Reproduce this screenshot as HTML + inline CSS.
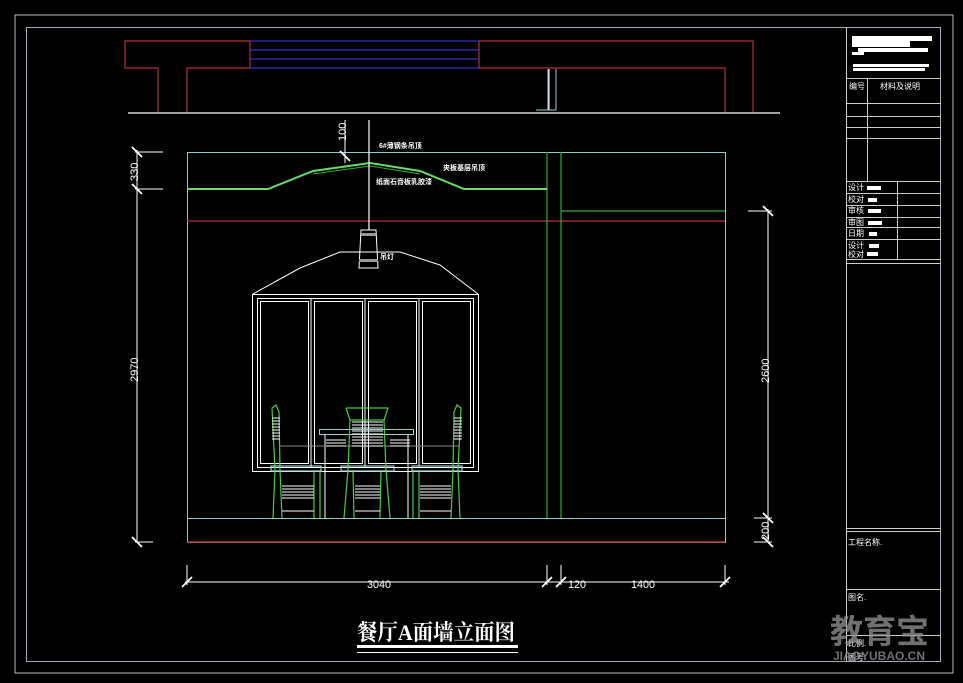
<!DOCTYPE html>
<html><head><meta charset="utf-8"><style>
html,body{margin:0;padding:0;background:#000;}
svg{display:block}
text{font-family:"Liberation Sans","Noto Sans CJK SC",sans-serif;fill:#fff}
</style></head><body>
<svg width="963" height="683" viewBox="0 0 963 683" xmlns="http://www.w3.org/2000/svg">
<rect width="963" height="683" fill="#000"/>
<rect x="15" y="15" width="938" height="658" fill="none" stroke="#bbb" stroke-width="1"/>
<rect x="26.5" y="27.5" width="914" height="634" fill="none" stroke="#aab" stroke-width="1"/>
<g stroke="#ccc" stroke-width="1" fill="none">
<line x1="846.5" y1="27" x2="846.5" y2="662"/>
<line x1="846" y1="78.5" x2="941" y2="78.5"/>
<line x1="846" y1="103.5" x2="941" y2="103.5"/>
<line x1="846" y1="116.5" x2="941" y2="116.5"/>
<line x1="846" y1="127.5" x2="941" y2="127.5"/>
<line x1="846" y1="138.5" x2="941" y2="138.5"/>
<line x1="867.5" y1="78" x2="867.5" y2="181"/>
<line x1="846" y1="181.5" x2="941" y2="181.5"/>
<line x1="846" y1="193.5" x2="941" y2="193.5"/>
<line x1="846" y1="205.5" x2="941" y2="205.5"/>
<line x1="846" y1="217.5" x2="941" y2="217.5"/>
<line x1="846" y1="227.5" x2="941" y2="227.5"/>
<line x1="846" y1="239.5" x2="941" y2="239.5"/>
<line x1="897.5" y1="181" x2="897.5" y2="259"/>
<line x1="846" y1="259.5" x2="941" y2="259.5"/>
<line x1="846" y1="263.5" x2="941" y2="263.5"/>
<line x1="846" y1="528.5" x2="941" y2="528.5"/>
<line x1="846" y1="531.5" x2="941" y2="531.5"/>
<line x1="846" y1="589.5" x2="941" y2="589.5"/>
<line x1="846" y1="635.5" x2="941" y2="635.5"/>
</g>
<g fill="#fff">
<rect x="852" y="36" width="80" height="5"/>
<rect x="852" y="41" width="58" height="6"/>
<rect x="858" y="48" width="70" height="4"/>
<rect x="852" y="52" width="12" height="3"/>
<rect x="853" y="64" width="76" height="3"/>
<rect x="853" y="68" width="72" height="3"/>
<rect x="867" y="186" width="14" height="4"/>
<rect x="868" y="198" width="9" height="4"/>
<rect x="868" y="209" width="13" height="4"/>
<rect x="868" y="221" width="14" height="4"/>
<rect x="869" y="232" width="8" height="4"/>
<rect x="869" y="244" width="10" height="4"/>
<rect x="867" y="252" width="11" height="4"/>
</g>
<g font-size="8">
<text x="849" y="89">编号</text><text x="880" y="89">材料及说明</text>
<text x="848" y="190">设计</text><text x="848" y="202">校对</text><text x="848" y="213">审核</text>
<text x="848" y="225">审图</text><text x="848" y="236">日期</text><text x="848" y="248">设计</text><text x="848" y="257">校对</text>
<text x="848" y="545">工程名称.</text><text x="848" y="600">图名.</text>
<text x="848" y="646">比例.</text><text x="848" y="660">图号.</text>
</g>
<g stroke="#b0303a" stroke-width="1.2" fill="none">
<polyline points="158,112 158,68 125,68 125,41 250,41 250,68 187,68 187,112"/>
<polyline points="725,112 725,68 479,68 479,41 753,41 753,112"/>
</g>
<g stroke="#3030c0" stroke-width="1.2">
<line x1="250" y1="41" x2="479" y2="41"/><line x1="250" y1="50" x2="479" y2="50"/>
<line x1="250" y1="59" x2="479" y2="59"/><line x1="250" y1="68" x2="479" y2="68"/>
</g>
<g stroke="#9cc" stroke-width="1" fill="none">
<line x1="548" y1="69" x2="548" y2="110"/><line x1="556" y1="69" x2="556" y2="110"/>
<line x1="536" y1="110" x2="556" y2="110"/>
</g>
<line x1="549" y1="69" x2="549" y2="110" stroke="#fff"/>
<line x1="128" y1="113" x2="780" y2="113" stroke="#fff" stroke-width="1.2"/>
<rect x="187.5" y="152.5" width="538" height="390" fill="none" stroke="#8cc" stroke-width="1"/>
<line x1="187" y1="221" x2="725" y2="221" stroke="#b0303a" stroke-width="1.2"/>
<line x1="187" y1="542" x2="725" y2="542" stroke="#b0303a" stroke-width="1.5"/>
<line x1="187" y1="518.5" x2="725" y2="518.5" stroke="#8cc"/>
<g stroke="#3a3" stroke-width="1.2">
<line x1="547" y1="152" x2="547" y2="518"/><line x1="561" y1="152" x2="561" y2="518"/>
<line x1="561" y1="211" x2="725" y2="211"/>
</g>
<polyline points="187,189 268,189 313,171 370,163 420,171 464,189 547,189" fill="none" stroke="#6d6" stroke-width="2"/>
<polyline points="313,174 370,166 420,174" fill="none" stroke="#3a3" stroke-width="1"/>
<line x1="369" y1="120" x2="369" y2="230" stroke="#fff" stroke-width="1.2"/>
<polygon points="361,230 376,230 378,268 359,268" fill="none" stroke="#fff"/>
<rect x="361" y="233" width="15" height="3" fill="#999"/><rect x="359" y="259" width="19" height="3" fill="#999"/>
<g font-size="7" font-weight="bold">
<text x="379" y="148">6#薄钢条吊顶</text>
<text x="443" y="170">夹板基层吊顶</text>
<text x="376" y="184">纸面石膏板乳胶漆</text>
<text x="380" y="259">吊灯</text>
</g>
<g stroke="#fff" fill="none" stroke-width="1">
<polyline points="253,294 300,268 340,252 400,252 440,265 478,294"/>
<rect x="252.5" y="294.5" width="226" height="177"/>
<rect x="257.5" y="298.5" width="216" height="169"/>
<line x1="311" y1="298" x2="311" y2="467"/><line x1="365" y1="298" x2="365" y2="467"/><line x1="419" y1="298" x2="419" y2="467"/>
<rect x="260.5" y="301.5" width="48" height="162"/>
<rect x="314.5" y="301.5" width="48" height="162"/>
<rect x="368.5" y="301.5" width="48" height="162"/>
<rect x="422.5" y="301.5" width="48" height="162"/>
</g>
<g stroke="#fff" fill="none">
<rect x="319.5" y="429.5" width="94" height="5" stroke="#9cc"/>
<line x1="325" y1="435" x2="325" y2="518"/><line x1="408" y1="435" x2="408" y2="518"/>
<line x1="279" y1="446" x2="460" y2="446" stroke="#888"/>
</g>
<g stroke="#4c4" fill="none" stroke-width="1.2">
<path d="M273,518 L275,470 L272,408 L276,405 L279,412 L280,470 L282,518"/>
<path d="M320,518 L320,470 M314,518 L314,470"/>
<rect x="271" y="466" width="50" height="5" stroke="#9cc"/>
<path d="M460,518 L458,470 L461,408 L457,405 L454,412 L453,470 L451,518"/>
<path d="M413,518 L413,470 M419,518 L419,470"/>
<rect x="412" y="466" width="50" height="5" stroke="#9cc"/>
<path d="M346,408 L388,408 L384,420 L386,470 L390,518 M350,420 L348,470 L344,518 M346,408 L350,420 L384,420"/>
<path d="M354,518 L353,470 M380,518 L381,470"/>
<rect x="341" y="466" width="53" height="5" stroke="#9cc"/>
</g>
<g stroke="#fff" stroke-width="1">
<path d="M272,418h8M272,421h8M272,424h8M272,427h8M272,430h8M272,433h8M272,436h8M272,439h8"/>
<path d="M454,418h8M454,421h8M454,424h8M454,427h8M454,430h8M454,433h8M454,436h8M454,439h8"/>
<path d="M352,422h31M352,425h31M352,428h31M352,431h31M352,434h31M352,437h31M352,440h31M352,443h31M352,446h31"/>
<path d="M326,440h20M326,443h20M326,446h20M390,440h20M390,443h20M390,446h20"/>
<path d="M282,486h32M282,489h32M282,492h32M282,495h32M282,498h32M282,511h32"/>
<path d="M355,486h25M355,489h25M355,492h25M355,495h25M355,498h25M355,511h25"/>
<path d="M420,486h31M420,489h31M420,492h31M420,495h31M420,498h31M420,511h31"/>
</g>
<g stroke="#fff" stroke-width="1" fill="none">
<line x1="137" y1="150" x2="137" y2="542"/>
<line x1="135" y1="152" x2="163" y2="152"/><line x1="135" y1="189" x2="163" y2="189"/><line x1="135" y1="542" x2="153" y2="542"/>
<path d="M132,147l10,10M132,184l10,10M132,537l10,10" stroke-width="1.8"/>
<line x1="768" y1="209" x2="768" y2="542"/>
<line x1="748" y1="211" x2="772" y2="211"/><line x1="754" y1="518" x2="772" y2="518"/><line x1="754" y1="542" x2="772" y2="542"/>
<path d="M763,206l10,10M763,513l10,10M763,537l10,10" stroke-width="1.8"/>
<line x1="345" y1="120" x2="345" y2="163"/>
<path d="M340,151l10,10" stroke-width="1.8"/>
<line x1="185" y1="582" x2="729" y2="582"/>
<line x1="187" y1="565" x2="187" y2="585"/><line x1="547" y1="565" x2="547" y2="585"/><line x1="561" y1="565" x2="561" y2="585"/><line x1="725" y1="565" x2="725" y2="585"/>
<path d="M182,587l10,-10M542,587l10,-10M556,587l10,-10M720,587l10,-10" stroke-width="1.8"/>
</g>
<g font-size="11" fill="#fff">
<text x="367" y="588" textLength="24" lengthAdjust="spacingAndGlyphs">3040</text>
<text x="568" y="588" textLength="18" lengthAdjust="spacingAndGlyphs">120</text>
<text x="631" y="588" textLength="24" lengthAdjust="spacingAndGlyphs">1400</text>
<text transform="translate(138,181) rotate(-90)">330</text>
<text transform="translate(138,382) rotate(-90)">2970</text>
<text transform="translate(346,141) rotate(-90)">100</text>
<text transform="translate(769,383) rotate(-90)">2600</text>
<text transform="translate(769,540) rotate(-90)">200</text>
</g>
<text x="357" y="640" font-size="22" font-weight="bold" textLength="158" lengthAdjust="spacingAndGlyphs" style="font-family:'Liberation Serif','Noto Serif CJK SC',serif">餐厅A面墙立面图</text>
<rect x="357" y="645" width="161" height="3" fill="#fff"/>
<rect x="357" y="652" width="161" height="1" fill="#fff"/>
<text x="830" y="643" font-size="33" font-weight="bold" style="fill:rgba(150,150,150,0.75)">教育宝</text>
<text x="833" y="660" font-size="12" font-weight="bold" style="fill:rgba(150,150,150,0.75)">JIAOYUBAO.CN</text>
</svg>
</body></html>
